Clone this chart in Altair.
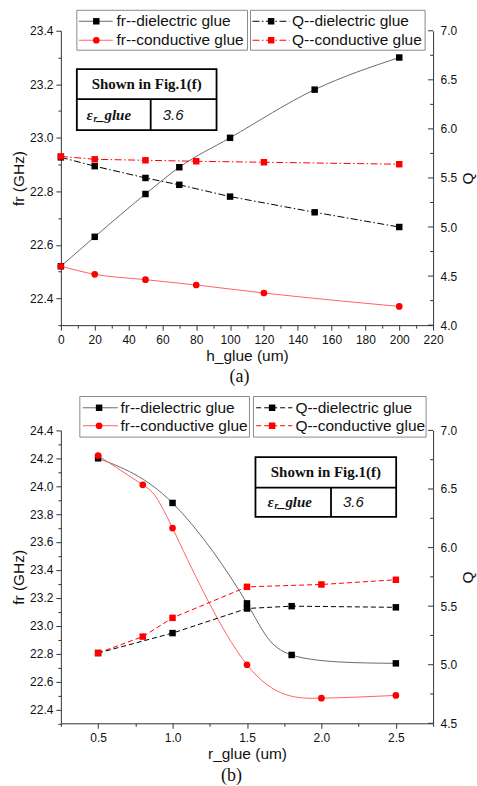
import altair as alt
import pandas as pd

# ---------------- data: panel (a) ----------------
h_diel = [0, 20, 50, 70, 100, 150, 200]
fr_diel_a = [22.52, 22.63, 22.79, 22.89, 23.00, 23.18, 23.30]
q_diel_a = [5.71, 5.62, 5.50, 5.43, 5.31, 5.15, 5.00]
h_cond = [0, 20, 50, 80, 120, 200]
fr_cond_a = [22.52, 22.49, 22.47, 22.45, 22.42, 22.37]
q_cond_a = [5.72, 5.69, 5.68, 5.67, 5.66, 5.64]

# ---------------- data: panel (b) ----------------
r_diel = [0.5, 1.0, 1.5, 1.8, 2.5]
fr_diel_b = [24.20, 23.88, 23.16, 22.79, 22.73]
q_diel_b = [5.10, 5.27, 5.48, 5.50, 5.49]
r_cond = [0.5, 0.8, 1.0, 1.5, 2.0, 2.5]
fr_cond_b = [24.22, 24.01, 23.70, 22.72, 22.48, 22.50]
q_cond_b = [5.10, 5.24, 5.40, 5.665, 5.685, 5.725]

legend_labels = ["fr--dielectric glue", "fr--conductive glue",
                 "Q--dielectric glue", "Q--conductive glue"]
inset_title = "Shown in Fig.1(f)"
inset_value = "3.6"

# tick positions
x_ticks_a = list(range(0, 221, 10))
fr_ticks_a = [round(22.3 + 0.1 * i, 2) for i in range(12)]
q_ticks_a = [round(4.0 + 0.25 * i, 2) for i in range(13)]
x_ticks_b = [round(0.25 + 0.25 * i, 2) for i in range(11)]
fr_ticks_b = [round(22.3 + 0.1 * i, 2) for i in range(22)]
q_ticks_b = [round(4.5 + 0.25 * i, 2) for i in range(11)]

SANS = "Liberation Sans"
SERIF = "Liberation Serif"
W = 373
H_A = 295
H_B = 293.5
GRAY_LINE = "#6a6a6a"
RED_LINE = "#ff6262"
DASHDOT = [7, 2.5, 1.5, 2.5]
DASHED = [5, 3]

one = pd.DataFrame({"a": [0]})


def x_enc(domain, ticks, test, fmt, title):
    return alt.X("x:Q", scale=alt.Scale(domain=domain, nice=False, zero=False),
                 axis=alt.Axis(values=ticks, title=title,
                               labelExpr=f"({test}) ? format(datum.value, '{fmt}') : ''",
                               tickSize={"condition": {"test": test, "value": 5}, "value": 3},
                               labelPadding=4, titlePadding=3, labelFlush=False,
                               labelOverlap=False))


def yl_enc(domain, ticks):
    test = "round(datum.value*10) % 2 == 0"
    return alt.Y("y:Q", scale=alt.Scale(domain=domain, nice=False, zero=False),
                 axis=alt.Axis(values=ticks, title="fr (GHz)", orient="left",
                               labelExpr=f"({test}) ? format(datum.value, '.1f') : ''",
                               tickSize={"condition": {"test": test, "value": 5}, "value": 3},
                               labelPadding=3, titlePadding=3, labelFlush=False,
                               labelOverlap=False))


def yr_enc(domain, ticks):
    test = "round(datum.value*4) % 2 == 0"
    return alt.Y("y:Q", scale=alt.Scale(domain=domain, nice=False, zero=False),
                 axis=alt.Axis(values=ticks, title="Q", orient="right",
                               labelExpr=f"({test}) ? format(datum.value, '.1f') : ''",
                               tickSize=0, labelPadding=7, titlePadding=4,
                               titleAngle=270, titleBaseline="top",
                               labelFlush=False, labelOverlap=False))


def series(xs, ys, xe, ye, line_color, dash, point_color, shape, size, interp):
    df = pd.DataFrame({"x": xs, "y": ys})
    base = alt.Chart(df).encode(x=xe, y=ye)
    kw = dict(color=line_color, strokeWidth=1.0, interpolate=interp)
    if dash:
        kw["strokeDash"] = dash
    line = base.mark_line(**kw)
    pts = base.mark_point(shape=shape, filled=True, color=point_color, size=size, opacity=1)
    return line + pts


def inward_ticks(ticks, xe, ye):
    major = [t for t in ticks if round(t * 4) % 2 == 0]
    minor = [t for t in ticks if round(t * 4) % 2 == 1]
    dmaj = pd.DataFrame({"y": major})
    dmin = pd.DataFrame({"y": minor})
    r1 = alt.Chart(dmaj).mark_rule(color="#333", strokeWidth=1).encode(
        x=alt.value(W - 5), x2=alt.value(W), y=ye)
    r2 = alt.Chart(dmin).mark_rule(color="#333", strokeWidth=1).encode(
        x=alt.value(W - 3), x2=alt.value(W), y=ye)
    return r1 + r2


def rect(x1, x2, y1, y2, stroke, sw, fill="white"):
    kw = dict(fill=fill, strokeWidth=sw)
    if stroke:
        kw["stroke"] = stroke
    return alt.Chart(one).mark_rect(**kw).encode(
        x=alt.value(x1), x2=alt.value(x2), y=alt.value(y1), y2=alt.value(y2))


def rule(x1, x2, y1, y2, color, sw, dash=None):
    kw = dict(color=color, strokeWidth=sw)
    if dash:
        kw["strokeDash"] = dash
    return alt.Chart(one).mark_rule(**kw).encode(
        x=alt.value(x1), x2=alt.value(x2), y=alt.value(y1), y2=alt.value(y2))


def text(s, x, y, size, font=SANS, weight="normal", style="normal", align="left", color="#111"):
    return alt.Chart(one).mark_text(text=s, font=font, fontSize=size, fontWeight=weight,
                                    fontStyle=style, align=align, baseline="middle",
                                    color=color).encode(x=alt.value(x), y=alt.value(y))


def point(x, y, shape, color, size):
    return alt.Chart(one).mark_point(shape=shape, filled=True, color=color, size=size,
                                     opacity=1).encode(x=alt.value(x), y=alt.value(y))


def legend(b1, b2, ytop, ybot, rows, s1, s2, qdash):
    x1a, x1b = b1
    x2a, x2b = b2
    layers = [rect(x1a, x1b, ytop, ybot, "#8a8a8a", 1), rect(x2a, x2b, ytop, ybot, "#8a8a8a", 1)]
    specs = [
        (s1, rows[0], GRAY_LINE, None, "square", "black", legend_labels[0]),
        (s1, rows[1], RED_LINE, None, "circle", "red", legend_labels[1]),
        (s2, rows[0], "black", qdash, "square", "black", legend_labels[2]),
        (s2, rows[1], "red", qdash, "square", "red", legend_labels[3]),
    ]
    for (lx1, lx2, mx, tx), y, lc, dash, shp, pc, lab in specs:
        layers.append(rule(lx1, lx2, y, y, lc, 1.0, dash))
        layers.append(point(mx, y, shp, pc, 42 if shp == "square" else 45))
        layers.append(text(lab, tx, y, 15.5))
    return layers


def inset(x1, x2, y1, y2, ydiv, xdiv, xe):
    yr1 = (y1 + ydiv) / 2
    yr2 = (ydiv + y2) / 2
    return [
        rect(x1, x2, y1, y2, "black", 1.8),
        rule(x1, x2, ydiv, ydiv, "black", 1.8),
        rule(xdiv, xdiv, ydiv, y2, "black", 1.8),
        text(inset_title, (x1 + x2) / 2, yr1, 15, SERIF, "bold", "normal", "center"),
        text("\u03b5", xe, yr2, 15, SERIF, "bold", "italic"),
        text("r", xe + 7, yr2 + 4, 9.5, SERIF, "bold", "italic"),
        text("_glue", xe + 10.5, yr2, 15, SERIF, "bold", "italic"),
        text(inset_value, xdiv + 12, yr2, 15, SANS, "normal", "italic"),
    ]


# ---------------- panel (a) ----------------
xa = x_enc([0, 220], x_ticks_a, "round(datum.value) % 20 == 0", "d", "h_glue (um)")
yla = yl_enc([22.3, 23.4], fr_ticks_a)
yra = yr_enc([4.0, 7.0], q_ticks_a)

left_a = alt.layer(
    series(h_diel, fr_diel_a, xa, yla, GRAY_LINE, None, "black", "square", 42, "monotone"),
    series(h_cond, fr_cond_a, xa, yla, RED_LINE, None, "red", "circle", 45, "monotone"),
)
right_a = alt.layer(
    series(h_diel, q_diel_a, xa, yra, "black", DASHDOT, "black", "square", 42, "linear"),
    series(h_cond, q_cond_a, xa, yra, "red", DASHDOT, "red", "square", 42, "linear"),
    inward_ticks(q_ticks_a, xa, yra),
)
deco_a = alt.layer(
    rect(-61, -60, -29.5, -28.5, None, 0),
    *legend((16, 187), (190, 365), -20.5, 19.5, (-9.5, 9.5),
            (18, 52, 35.5, 55.7), (192, 229, 210.7, 231.7), DASHDOT),
    *inset(16, 156, 38.5, 99.5, 68.5, 90, 25.7),
    text("(a)", 179, H_A + 52, 18, SERIF, align="center"),
)
top = alt.layer(left_a, right_a, deco_a).resolve_scale(y="independent").properties(
    width=W, height=H_A)

# ---------------- panel (b) ----------------
xb = x_enc([0.25, 2.75], x_ticks_b, "round(datum.value*4) % 2 == 0", ".1f", "r_glue (um)")
ylb = yl_enc([22.3, 24.4], fr_ticks_b)
yrb = yr_enc([4.5, 7.0], q_ticks_b)

left_b = alt.layer(
    series(r_diel, fr_diel_b, xb, ylb, GRAY_LINE, None, "black", "square", 42, "natural"),
    series(r_cond, fr_cond_b, xb, ylb, RED_LINE, None, "red", "circle", 45, "natural"),
)
right_b = alt.layer(
    series(r_diel, q_diel_b, xb, yrb, "black", DASHED, "black", "square", 42, "linear"),
    series(r_cond, q_cond_b, xb, yrb, "red", DASHED, "red", "square", 42, "linear"),
    inward_ticks(q_ticks_b, xb, yrb),
)
deco_b = alt.layer(
    *legend((19, 189), (193, 366), -34, 6.7, (-22.7, -4.7),
            (22, 57, 38.3, 59.7), (195.7, 232, 211.7, 235), DASHED),
    *inset(195, 336, 26.7, 86.7, 57.3, 270.7, 207),
    text("(b)", 171, H_B + 53, 18, SERIF, align="center"),
)
bottom = alt.layer(left_b, right_b, deco_b).resolve_scale(y="independent").properties(
    width=W, height=H_B)

chart = alt.vconcat(top, bottom, spacing=105.5, bounds="flush").properties(
    padding=0, background="white"
).configure_view(strokeWidth=0).configure_axis(
    labelFont=SANS, labelFontSize=12, labelColor="#111",
    titleFont=SANS, titleFontSize=15.5, titleFontWeight="normal", titleColor="#111",
    domainColor="#333", tickColor="#333", domainWidth=1, tickWidth=1, grid=False,
)

chart.save("out.html", embed_options={"renderer": "svg", "actions": False})
